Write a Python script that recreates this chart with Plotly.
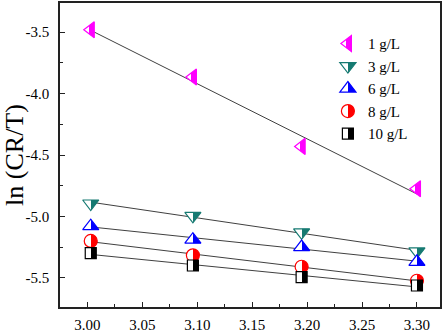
import numpy as np
import plotly.graph_objects as go

# 1000/T values
x_vals = [3.003, 3.096, 3.195, 3.300]
series_names = ["1 g/L", "3 g/L", "6 g/L", "8 g/L", "10 g/L"]
y_1 = [-3.48, -3.865, -4.43, -4.775]
y_3 = [-4.895, -4.995, -5.13, -5.285]
y_6 = [-5.08, -5.19, -5.25, -5.37]
y_8 = [-5.20, -5.317, -5.41, -5.524]
y_10 = [-5.30, -5.40, -5.495, -5.563]
y_series = [y_1, y_3, y_6, y_8, y_10]

x_tickvals = [3.00, 3.05, 3.10, 3.15, 3.20, 3.25, 3.30]
x_ticktext = ["3.00", "3.05", "3.10", "3.15", "3.20", "3.25", "3.30"]
y_tickvals = [-3.5, -4.0, -4.5, -5.0, -5.5]
y_ticktext = ["-3.5", "-4.0", "-4.5", "-5.0", "-5.5"]

colors = ["#ff00ff", "#167a72", "#0000ff", "#ff0000", "#000000"]
symbols = ["triangle-left", "triangle-down", "triangle-up", "circle", "square"]
sizes = [14, 14, 14, 13, 11]

fig = go.Figure()

x_arr = np.array(x_vals)
# fit lines
for ys in y_series:
    k, b = np.polyfit(x_arr, np.array(ys), 1)
    fig.add_trace(go.Scatter(x=x_arr, y=k * x_arr + b, mode="lines",
                             line=dict(color="#404040", width=1),
                             showlegend=False, hoverinfo="skip"))

for name, ys, c, s, sz in zip(series_names, y_series, colors, symbols, sizes):
    fig.add_trace(go.Scatter(
        x=x_vals, y=ys, mode="markers", name=name,
        marker=dict(symbol=s, size=sz, color="#ffffff",
                    gradient=dict(type="horizontal", color=c),
                    line=dict(color=c, width=1.2))))

font_family = "Liberation Serif, Times New Roman, serif"
fig.update_layout(
    width=444, height=334,
    margin=dict(l=60, r=4, t=1, b=21),
    paper_bgcolor="white", plot_bgcolor="white",
    font=dict(family=font_family, size=15, color="black"),
    showlegend=True,
    legend=dict(x=0.705, y=0.92, xanchor="left", yanchor="top",
                bgcolor="rgba(0,0,0,0)", font=dict(size=15),
                itemsizing="trace", tracegroupgap=0),
)
fig.update_xaxes(range=[2.975, 3.321], tickvals=x_tickvals, ticktext=x_ticktext,
                 showline=True, linecolor="#222", linewidth=1.5, mirror=True,
                 ticks="inside", ticklen=5, tickcolor="#222",
                 minor=dict(ticks="inside", ticklen=3, dtick=0.025, tickcolor="#222"),
                 showgrid=False, zeroline=False, tickfont=dict(size=15),
                 ticklabelstandoff=3)
fig.update_yaxes(range=[-5.738, -3.262], tickvals=y_tickvals, ticktext=y_ticktext,
                 showline=True, linecolor="#222", linewidth=1.5, mirror=True,
                 ticks="inside", ticklen=5, tickcolor="#222",
                 minor=dict(ticks="inside", ticklen=3, tickvals=[-3.75, -4.25, -4.75, -5.25], tickcolor="#222"),
                 showgrid=False, zeroline=False, tickfont=dict(size=15),
                 ticklabelstandoff=6,
                 title=dict(text="ln (CR/T)", font=dict(size=26), standoff=6))

post = """
var gd = document.getElementById('{plot_id}');
function fixGrad(){
  document.querySelectorAll('linearGradient').forEach(function(g){
    var st = g.querySelectorAll('stop');
    if(st.length == 2){ st[0].setAttribute('offset','50%'); st[1].setAttribute('offset','50%'); }
  });
}
fixGrad(); setTimeout(fixGrad, 50); setTimeout(fixGrad, 300);
gd.on('plotly_afterplot', fixGrad);
"""
fig.write_html("out.html", post_script=post)
